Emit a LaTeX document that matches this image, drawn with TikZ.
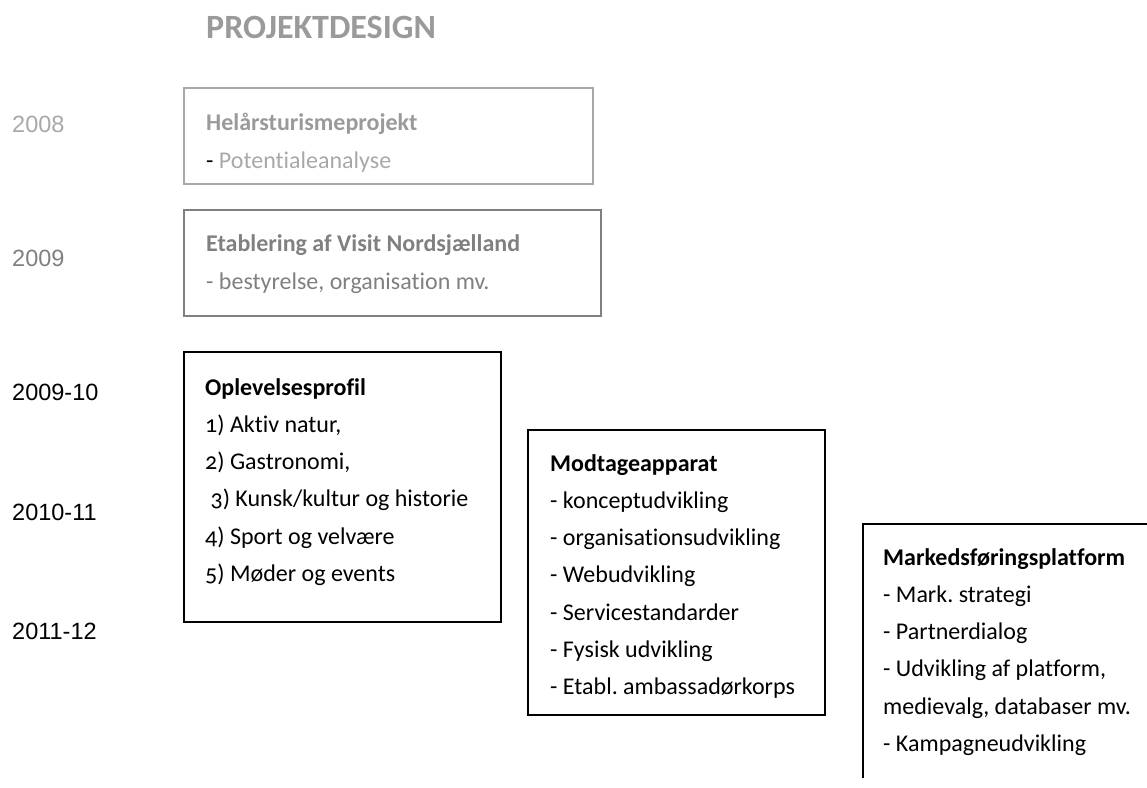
\documentclass[tikz,border=0pt]{standalone}
\usepackage{fontspec}
\setmainfont{Carlito}[Numbers=OldStyle, Ligatures=NoCommon]
\newfontfamily\yearfont{Liberation Sans}
\usepackage{tikz}
\usetikzlibrary{positioning}
\frenchspacing
\definecolor{titleGray}{HTML}{9A9A9A}
\definecolor{paleGray}{HTML}{A8A8A8}
\definecolor{midGray}{HTML}{808080}
\tikzstyle{yearLabel}=[anchor=base west, inner sep=0pt, font=\yearfont\fontsize{23.5}{28}\selectfont]
\tikzstyle{grayFrame}=[draw, line width=1.5pt, inner sep=0pt]
\tikzstyle{blackFrame}=[draw=black, line width=1.5pt, inner sep=0pt]
\tikzstyle{boxText}=[anchor=north west, inner sep=0pt, align=left, font=\fontsize{24}{37.2}\selectfont]
\tikzstyle{topText}=[anchor=north west, inner sep=0pt, align=left, font=\fontsize{24}{38}\selectfont]

\begin{document}
\begin{tikzpicture}[x=1pt, y=-1pt]
    \useasboundingbox (0,0) rectangle (1147,787);

    % Title
    \node[anchor=base west, inner sep=0pt, text=titleGray, font=\bfseries\fontsize{34}{40}\selectfont] (title) at (206, 38) {PROJEKTDESIGN};

    % Year labels
    \node[yearLabel, text=paleGray] (y2008) at (12, 132) {2008};
    \node[yearLabel, text=midGray] (y2009) at (12, 266) {2009};
    \node[yearLabel] (y2010) at (12, 400) {2009-10};
    \node[yearLabel] (y2011) at (12, 520) {2010-11};
    \node[yearLabel] (y2012) at (12, 639) {2011-12};

    % Earlier phases (gray)
    \node[grayFrame, draw=paleGray, minimum width=409pt, minimum height=96pt] (helFrame) at (388.5, 136) {};
    \node[topText, text=paleGray] (helText) at (206, 103.4) {\strut\textcolor{titleGray}{\bfseries Helårsturismeprojekt}\\ \textcolor{black}{-} Potentialeanalyse};
    \node[grayFrame, draw=midGray, minimum width=417pt, minimum height=106pt] (visitFrame) at (392.5, 263) {};
    \node[topText, text=midGray] (visitText) at (206, 224.4) {\strut\textbf{Etablering af Visit Nordsjælland}\\- bestyrelse, organisation mv.};

    % Current phases
    \node[blackFrame, minimum width=317pt, minimum height=270pt] (oplFrame) at (342.5, 487) {};
    \node[boxText] (oplText) at (205, 369) {\strut\textbf{Oplevelsesprofil}\\1) Aktiv natur,\\2) Gastronomi,\\\ 3) Kunsk/kultur og historie\\4) Sport og velvære\\5) Møder og events};
    \node[blackFrame, minimum width=297pt, minimum height=285pt] (modFrame) at (676.5, 572.5) {};
    \node[boxText] (modText) at (550, 445) {\strut\textbf{Modtageapparat}\\- konceptudvikling\\- organisationsudvikling\\- Webudvikling\\- Servicestandarder\\- Fysisk udvikling\\- Etabl. ambassadørkorps};

    % Marketing platform, cut off at the page edge
    \begin{scope}
        \clip (0,0) rectangle (1147,777);
        \node[blackFrame, minimum width=337pt, minimum height=276pt] (markFrame) at (1031.5, 662) {};
    \end{scope}
    \node[boxText] (markText) at (883, 539) {\strut\textbf{Markedsføringsplatform}\\- Mark. strategi\\- Partnerdialog\\- Udvikling af platform,\\medievalg, databaser mv.\\- Kampagneudvikling};
\end{tikzpicture}
\end{document}
